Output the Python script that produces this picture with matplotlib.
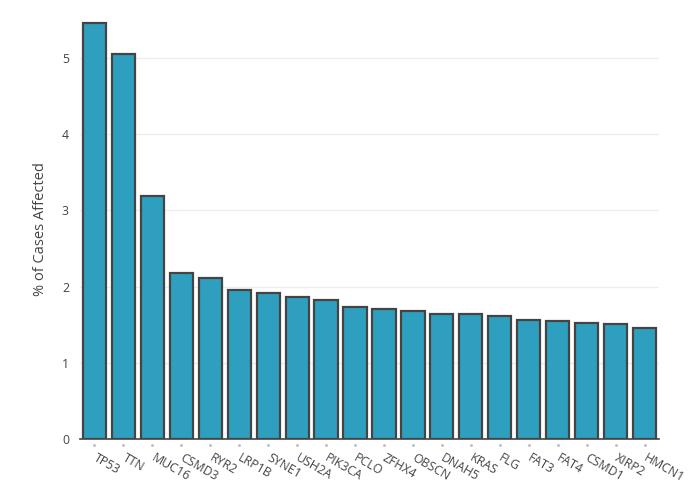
import matplotlib
matplotlib.use("Agg")
import matplotlib.pyplot as plt
import matplotlib.transforms as mtransforms

genes = ["TP53", "TTN", "MUC16", "CSMD3", "RYR2", "LRP1B", "SYNE1", "USH2A",
         "PIK3CA", "PCLO", "ZFHX4", "OBSCN", "DNAH5", "KRAS", "FLG", "FAT3",
         "FAT4", "CSMD1", "XIRP2", "HMCN1"]
pct = [5.46, 5.06, 3.19, 2.18, 2.11, 1.96, 1.92, 1.87, 1.83, 1.73, 1.71,
       1.68, 1.64, 1.64, 1.61, 1.56, 1.55, 1.52, 1.51, 1.46]
yticks = [0, 1, 2, 3, 4, 5]

plt.rcParams['font.family'] = ['Open Sans', 'DejaVu Sans']

fig = plt.figure(figsize=(7, 5), dpi=100)
ax = fig.add_axes([80/700, 61/500, 579/700, 419/500])

x = list(range(len(genes)))
ax.bar(x, pct, width=0.8, color="#2E9FBF", edgecolor="#444444", linewidth=1.6, zorder=3)

ax.set_xlim(-0.5, len(genes) - 0.5)
ax.set_ylim(0, 5.5)
ax.set_yticks(yticks)
ax.set_yticklabels([str(t) for t in yticks])
ax.grid(axis='y', color="#eeeeee", linewidth=1, zorder=0)
ax.set_axisbelow(True)

for s in ["top", "right", "left"]:
    ax.spines[s].set_visible(False)
ax.spines["bottom"].set_color("#444444")
ax.spines["bottom"].set_linewidth(1.2)
ax.spines["bottom"].set_zorder(4)

ax.set_xticks(x)
ax.set_xticklabels(genes, rotation=-30, ha='left', va='top', rotation_mode='anchor')
ax.tick_params(axis='x', length=0, pad=9, labelsize=8.8, labelcolor="#444444")
ax.tick_params(axis='y', length=0, pad=8, labelsize=8.8, labelcolor="#444444")
offset = mtransforms.ScaledTranslation(3/100, 0, fig.dpi_scale_trans)
for lbl in ax.get_xticklabels():
    lbl.set_transform(lbl.get_transform() + offset)
for xi in x:
    ax.plot([xi], [-0.08], marker='s', markersize=1.0, color="#c0c0c0", clip_on=False, zorder=5)

ax.set_ylabel("% of Cases Affected", fontsize=10.5, color="#444444", labelpad=10)

fig.savefig("out.png", dpi=100)
